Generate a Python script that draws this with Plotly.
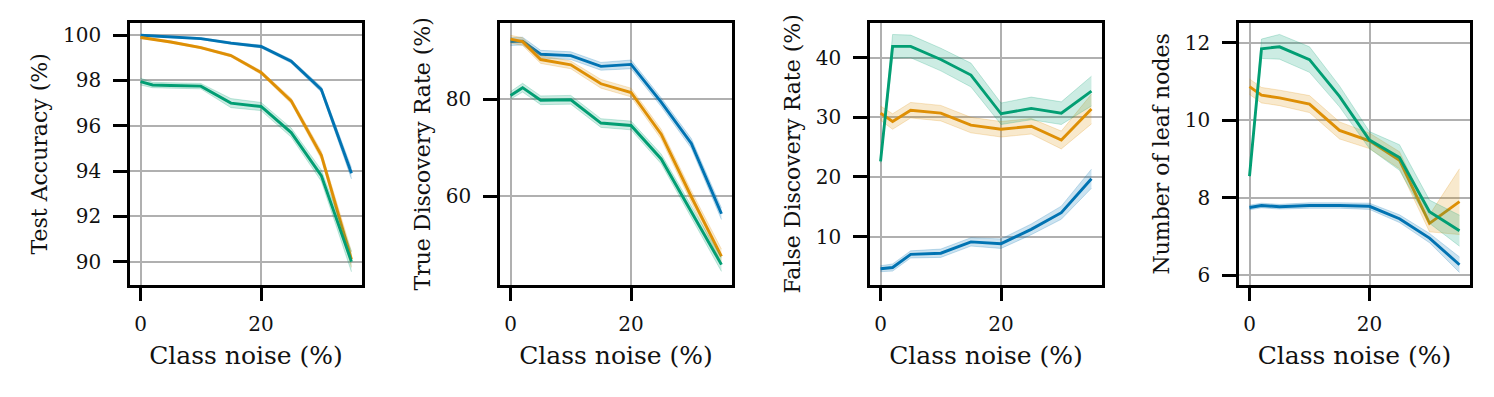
import plotly.graph_objects as go
from plotly.subplots import make_subplots

# class noise levels (%)
noise = [0, 2, 5, 10, 15, 20, 25, 30, 35]

# Test accuracy (%)
acc_blue = [100.0, 99.97, 99.93, 99.85, 99.65, 99.5, 98.85, 97.6, 93.9]
acc_blue_err = [0.03, 0.03, 0.03, 0.04, 0.05, 0.06, 0.08, 0.12, 0.25]
acc_orange = [99.9, 99.83, 99.7, 99.45, 99.1, 98.35, 97.1, 94.7, 90.1]
acc_orange_err = [0.04, 0.04, 0.05, 0.05, 0.06, 0.08, 0.12, 0.18, 0.35]
acc_green = [97.95, 97.8, 97.78, 97.75, 97.0, 96.85, 95.7, 93.8, 90.0]
acc_green_err = [0.15, 0.12, 0.12, 0.12, 0.2, 0.18, 0.2, 0.25, 0.45]

# True discovery rate (%)
tdr_blue = [91.9, 92.0, 89.3, 89.0, 86.8, 87.2, 79.4, 70.9, 56.4]
tdr_blue_err = [0.8, 0.8, 0.8, 0.8, 0.8, 0.9, 0.9, 1.0, 1.2]
tdr_orange = [92.4, 91.9, 88.2, 87.1, 83.2, 81.4, 72.8, 59.9, 47.6]
tdr_orange_err = [0.8, 0.8, 0.8, 0.8, 0.9, 0.9, 1.0, 1.2, 1.5]
tdr_green = [80.8, 82.4, 79.8, 79.9, 75.1, 74.6, 67.7, 56.8, 45.9]
tdr_green_err = [0.8, 0.9, 0.9, 0.9, 0.9, 0.9, 1.0, 1.2, 1.4]

# False discovery rate (%)
fdr_blue = [4.6, 4.8, 7.0, 7.2, 9.1, 8.8, 11.2, 14.0, 19.7]
fdr_blue_err = [0.5, 0.6, 0.6, 0.7, 0.7, 0.8, 0.9, 1.1, 1.6]
fdr_orange = [30.7, 29.3, 31.2, 30.7, 28.7, 28.0, 28.5, 26.2, 31.4]
fdr_orange_err = [1.2, 1.3, 1.3, 1.3, 1.3, 1.3, 1.3, 1.5, 2.5]
fdr_green = [22.6, 41.9, 41.9, 39.7, 37.1, 30.6, 31.5, 30.7, 34.4]
fdr_green_err = [0.3, 2.0, 1.9, 1.9, 2.0, 1.8, 1.9, 1.9, 2.5]

# Number of leaf nodes
leaf_blue = [7.75, 7.8, 7.77, 7.8, 7.8, 7.78, 7.46, 6.96, 6.27]
leaf_blue_err = [0.06, 0.06, 0.06, 0.07, 0.07, 0.08, 0.1, 0.12, 0.2]
leaf_orange = [10.87, 10.65, 10.58, 10.42, 9.74, 9.47, 8.97, 7.34, 7.9]
leaf_orange_err = [0.2, 0.2, 0.2, 0.22, 0.22, 0.2, 0.22, 0.22, 0.85]
leaf_green = [8.56, 11.85, 11.9, 11.57, 10.62, 9.49, 9.04, 7.64, 7.15]
leaf_green_err = [0.02, 0.25, 0.32, 0.33, 0.27, 0.22, 0.33, 0.3, 0.4]

y_titles = ["Test Accuracy (%)", "True Discovery Rate (%)",
            "False Discovery Rate (%)", "Number of leaf nodes"]
x_title = "Class noise (%)"

COLORS = {"blue": (1, 115, 178), "orange": (222, 143, 5), "green": (2, 158, 115)}
FONT = "DejaVu Serif"

panels = [
    [("blue", acc_blue, acc_blue_err), ("orange", acc_orange, acc_orange_err),
     ("green", acc_green, acc_green_err)],
    [("blue", tdr_blue, tdr_blue_err), ("orange", tdr_orange, tdr_orange_err),
     ("green", tdr_green, tdr_green_err)],
    [("blue", fdr_blue, fdr_blue_err), ("orange", fdr_orange, fdr_orange_err),
     ("green", fdr_green, fdr_green_err)],
    [("blue", leaf_blue, leaf_blue_err), ("orange", leaf_orange, leaf_orange_err),
     ("green", leaf_green, leaf_green_err)],
]

y_ranges = [[88.99, 100.53], [41.8, 95.7], [1.95, 45.8], [5.76, 12.51]]
y_ticks = [[90, 92, 94, 96, 98, 100], [60, 80], [10, 20, 30, 40], [6, 8, 10, 12]]

# the page body has an 8px margin, so the figure is drawn 8px smaller
W, H = 1478, 381
x_px = [(130, 362), (500, 732), (870, 1102), (1239, 1470)]
x_domains = [[(a - 8) / W, (b - 8) / W] for a, b in x_px]
y_domain = [1 - (286.7 - 8) / H, 1 - (23.3 - 8) / H]


def rgba(name, a):
    r, g, b = COLORS[name]
    return f"rgba({r},{g},{b},{a})"


fig = make_subplots(rows=1, cols=4)

for col, series in enumerate(panels, start=1):
    for name, mean, err in series:
        lo = [m - e for m, e in zip(mean, err)]
        hi = [m + e for m, e in zip(mean, err)]
        fig.add_trace(go.Scatter(x=noise, y=lo, mode="lines",
                                 line=dict(color=rgba(name, 0.22), width=1),
                                 showlegend=False, hoverinfo="skip"), row=1, col=col)
        fig.add_trace(go.Scatter(x=noise, y=hi, mode="lines", fill="tonexty",
                                 fillcolor=rgba(name, 0.2),
                                 line=dict(color=rgba(name, 0.22), width=1),
                                 showlegend=False, hoverinfo="skip"), row=1, col=col)
        fig.add_trace(go.Scatter(x=noise, y=mean, mode="lines",
                                 line=dict(color=rgba(name, 1), width=2.9),
                                 showlegend=False), row=1, col=col)

axis_common = dict(
    showline=True, linecolor="black", linewidth=2.5, mirror=True,
    showgrid=True, gridcolor="#b0b0b0", gridwidth=1.5, zeroline=False,
    ticks="outside", ticklen=14, tickwidth=2.5, tickcolor="black",
    tickfont=dict(family=FONT, size=20, color="#111"),
)

for i in range(4):
    fig.update_xaxes(axis_common, row=1, col=i + 1, domain=x_domains[i],
                     range=[-1.75, 36.75], tickvals=[0, 20],
                     ticklabelstandoff=6,
                     title=dict(text=x_title, standoff=12,
                                font=dict(family=FONT, size=25, color="#111")))
    fig.update_yaxes(axis_common, row=1, col=i + 1, domain=y_domain,
                     range=y_ranges[i], tickvals=y_ticks[i],
                     ticklabelstandoff=8,
                     title=dict(text=y_titles[i], standoff=10,
                                font=dict(family=FONT, size=22, color="#111")))

fig.update_layout(
    width=W, height=H,
    margin=dict(l=0, r=0, t=0, b=0),
    paper_bgcolor="white", plot_bgcolor="white",
    showlegend=False,
)

fig.write_html("out.html")
